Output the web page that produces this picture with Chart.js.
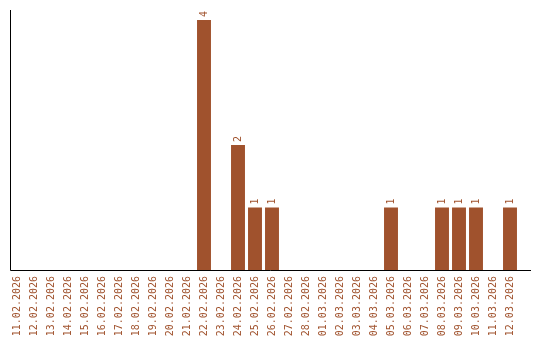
<!DOCTYPE html>
<html>
<head>
<meta charset="utf-8">
<script src="https://cdn.jsdelivr.net/npm/chart.js@4/dist/chart.umd.min.js"></script>
<style>
html,body{margin:0;padding:0;background:#fff;}
#wrap{width:540px;height:340px;position:relative;}
</style>
</head>
<body>
<div id="wrap"><canvas id="c" width="540" height="340"></canvas></div>
<script>
const categories = ["11.02.2026","12.02.2026","13.02.2026","14.02.2026","15.02.2026","16.02.2026","17.02.2026","18.02.2026","19.02.2026","20.02.2026","21.02.2026","22.02.2026","23.02.2026","24.02.2026","25.02.2026","26.02.2026","27.02.2026","28.02.2026","01.03.2026","02.03.2026","03.03.2026","04.03.2026","05.03.2026","06.03.2026","07.03.2026","08.03.2026","09.03.2026","10.03.2026","11.03.2026","12.03.2026"];
const counts = [0,0,0,0,0,0,0,0,0,0,0,4,0,2,1,1,0,0,0,0,0,0,1,0,0,1,1,1,0,1];

const COLOR = '#A0522D';
const FONT = '10px "DejaVu Sans Mono"';

const extras = {
  id: 'extras',
  afterDatasetsDraw(chart) {
    const ctx = chart.ctx;
    const meta = chart.getDatasetMeta(0);
    ctx.save();
    ctx.fillStyle = COLOR;
    ctx.font = FONT;
    ctx.textAlign = 'left';
    ctx.textBaseline = 'middle';
    meta.data.forEach((bar, i) => {
      const v = counts[i];
      if (!v) return;
      ctx.save();
      ctx.translate(bar.x, bar.y - 3);
      ctx.rotate(-Math.PI / 2);
      ctx.fillText(String(v), 0, 0);
      ctx.restore();
    });
    // axis lines
    const a = chart.chartArea;
    ctx.strokeStyle = '#000';
    ctx.lineWidth = 1;
    ctx.beginPath();
    ctx.moveTo(10.5, a.top);
    ctx.lineTo(10.5, a.bottom + 0.5);
    ctx.lineTo(531, a.bottom + 0.5);
    ctx.stroke();
    ctx.restore();
  }
};

new Chart(document.getElementById('c'), {
  type: 'bar',
  data: {
    labels: categories,
    datasets: [{
      data: counts,
      backgroundColor: COLOR,
      borderWidth: 0,
      barPercentage: 1,
      categoryPercentage: 0.82
    }]
  },
  options: {
    responsive: false,
    animation: false,
    layout: { padding: { left: 8.5, right: 21.5, top: 10, bottom: 0 } },
    plugins: { legend: { display: false }, tooltip: { enabled: false } },
    scales: {
      x: {
        offset: true,
        grid: { display: false, drawTicks: false },
        border: { display: false },
        ticks: {
          autoSkip: false, minRotation: 90, maxRotation: 90,
          color: COLOR, font: { family: 'DejaVu Sans Mono', size: 10 }, padding: 6
        },
        afterFit(s) { s.height = 70; }
      },
      y: {
        display: false,
        min: 0, max: 4.16
      }
    }
  },
  plugins: [extras]
});
</script>
</body>
</html>
